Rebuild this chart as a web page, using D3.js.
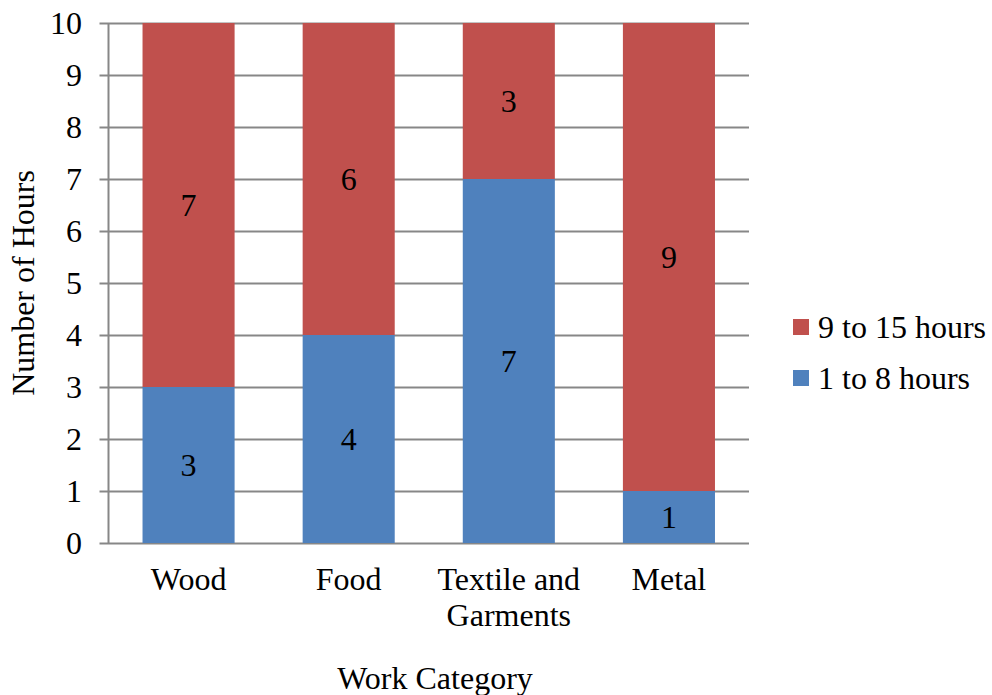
<!DOCTYPE html>
<html>
<head>
<meta charset="utf-8">
<script src="https://cdn.jsdelivr.net/npm/d3@7"></script>
</head>
<body style="margin:0;background:#fff">
<svg id="chart" width="992" height="695"></svg>
<script>
// Work categories and hours split into two shift groups
const categories = ["Wood", "Food", "Textile and Garments", "Metal"];
const categoryLines = [["Wood"], ["Food"], ["Textile and", "Garments"], ["Metal"]];
const shortHours = [3, 4, 7, 1];   // 1 to 8 hours
const longHours = [7, 6, 3, 9];    // 9 to 15 hours
const seriesNames = ["1 to 8 hours", "9 to 15 hours"];
const seriesColors = ["#4F81BD", "#C0504D"];
const yTicks = [0, 1, 2, 3, 4, 5, 6, 7, 8, 9, 10];

const fontSize = 32;

const svg = d3.select("#chart");
const plot = { left: 108.5, right: 749, top: 23, bottom: 543 };

const x = d3.scaleBand()
  .domain(categories)
  .range([plot.left, plot.right])
  .paddingInner(0.425)
  .paddingOuter(0.2125);

const y = d3.scaleLinear().domain([0, 10]).range([plot.bottom, plot.top]);

function label(sel) {
  return sel.attr("font-size", fontSize).style("font-family", '"Liberation Serif"');
}

// horizontal gridlines with short ticks to the left of the axis
svg.append("g")
  .selectAll("line")
  .data(yTicks)
  .join("line")
  .attr("x1", plot.left - 9)
  .attr("x2", plot.right)
  .attr("y1", d => Math.round(y(d)) + 0.5)
  .attr("y2", d => Math.round(y(d)) + 0.5)
  .attr("stroke", "#878787")
  .attr("stroke-width", 2);

// stacked data
const rows = categories.map((c, i) => ({ cat: c, s0: shortHours[i], s1: longHours[i] }));
const stack = d3.stack().keys(["s0", "s1"])(rows);

const bars = svg.append("g");
stack.forEach((layer, li) => {
  bars.append("g")
    .attr("fill", seriesColors[li])
    .selectAll("rect")
    .data(layer)
    .join("rect")
    .attr("x", d => x(d.data.cat))
    .attr("width", x.bandwidth())
    .attr("y", d => y(d[1]))
    .attr("height", d => y(d[0]) - y(d[1]));
});

// value labels in each segment
stack.forEach(layer => {
  svg.selectAll(null)
    .data(layer)
    .enter().append("text")
    .attr("x", d => x(d.data.cat) + x.bandwidth() / 2)
    .attr("y", d => (y(d[0]) + y(d[1])) / 2 + 11)
    .attr("text-anchor", "middle")
    .call(label)
    .text(d => d[1] - d[0]);
});

// y axis line
svg.append("line")
  .attr("x1", plot.left).attr("x2", plot.left)
  .attr("y1", plot.top).attr("y2", plot.bottom)
  .attr("stroke", "#878787").attr("stroke-width", 2);

// y tick labels
svg.selectAll(null)
  .data(yTicks)
  .enter().append("text")
  .attr("x", 82)
  .attr("y", d => y(d) + 11)
  .attr("text-anchor", "end")
  .call(label)
  .text(d => d);

// category labels, one line per text element
categoryLines.forEach((lines, i) => {
  lines.forEach((t, j) => {
    svg.append("text")
      .attr("x", x(categories[i]) + x.bandwidth() / 2)
      .attr("y", 590 + j * 36)
      .attr("text-anchor", "middle")
      .call(label)
      .text(t);
  });
});

// axis titles
svg.append("text")
  .attr("x", 435).attr("y", 689)
  .attr("text-anchor", "middle")
  .call(label)
  .text("Work Category");

svg.append("text")
  .attr("transform", "translate(34,283) rotate(-90)")
  .attr("text-anchor", "middle")
  .call(label)
  .text("Number of Hours");

// legend (long shift listed first)
const legendItems = [1, 0];
legendItems.forEach((d, i) => {
  svg.append("rect")
    .attr("x", 793).attr("y", 319 + i * 51)
    .attr("width", 16).attr("height", 16)
    .attr("fill", seriesColors[d]);
  svg.append("text")
    .attr("x", 818).attr("y", 338 + i * 51)
    .call(label)
    .text(seriesNames[d]);
});
</script>
</body>
</html>
